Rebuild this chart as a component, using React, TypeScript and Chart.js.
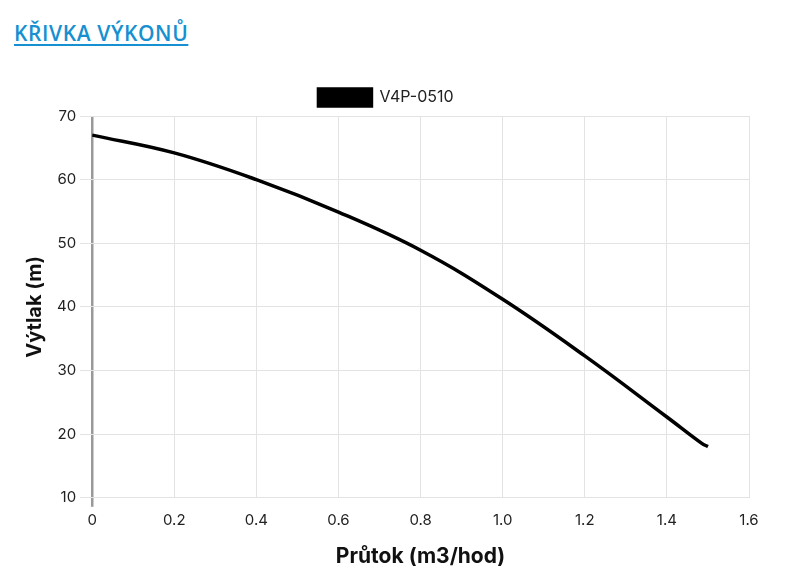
import React, { useEffect, useRef } from "react";
import { Chart, registerables } from "chart.js";

Chart.register(...registerables);

const seriesLabel = "V4P-0510";
const flowValues = [0, 0.2, 0.4, 0.6, 0.8, 1.0, 1.2, 1.4, 1.485, 1.5];
const headValues = [67.0, 64.2, 60.0, 54.9, 48.9, 41.2, 32.3, 22.7, 18.55, 18.05];
const xTickLabels = ["0", "0.2", "0.4", "0.6", "0.8", "1.0", "1.2", "1.4", "1.6"];
const yTicks = [10, 20, 30, 40, 50, 60, 70];

const FONT = "Inter, 'Open Sans', sans-serif";

export default function App() {
  const ref = useRef<HTMLCanvasElement | null>(null);

  useEffect(() => {
    if (!ref.current) return;
    const chart = new Chart(ref.current, {
      type: "line",
      data: {
        datasets: [
          {
            label: seriesLabel,
            data: flowValues.map((x, i) => ({ x, y: headValues[i] })),
            borderColor: "#000",
            backgroundColor: "#000",
            borderWidth: 3.5,
            pointRadius: 0,
            tension: 0.4,
            fill: false,
          },
        ],
      },
      options: {
        animation: false,
        responsive: false,
        maintainAspectRatio: false,
        layout: { padding: { left: 23, right: 47, top: 9, bottom: 14 } },
        plugins: {
          legend: {
            display: true,
            labels: {
              boxWidth: 53,
              boxHeight: 17,
              color: "#222",
              font: { family: FONT, size: 16 },
              padding: 10,
            },
          },
          tooltip: { enabled: false },
        },
        scales: {
          x: {
            type: "linear",
            min: 0,
            max: 1.6,
            ticks: {
              stepSize: 0.2,
              color: "#222",
              font: { family: FONT, size: 15 },
              padding: 5,
              callback: (_v: any, i: number) => xTickLabels[i],
            },
            grid: {
              color: (ctx: any) => (ctx.index === 0 ? "#999" : "#e3e3e3"),
              lineWidth: (ctx: any) => (ctx.index === 0 ? 2.5 : 1),
              tickColor: (ctx: any) => (ctx.index === 0 ? "#999" : "rgba(0,0,0,0)"),
              tickLength: 9,
            },
            border: { display: false },
            title: {
              display: true,
              text: "Průtok (m3/hod)",
              color: "#111",
              font: { family: FONT, size: 21, weight: "bold" },
              padding: { top: 9, bottom: 0 },
            },
          },
          y: {
            type: "linear",
            min: 10,
            max: 70,
            afterBuildTicks: (axis: any) => {
              axis.ticks = yTicks.map((v) => ({ value: v }));
            },
            ticks: {
              color: "#222",
              font: { family: FONT, size: 15 },
              padding: 4,
            },
            grid: {
              color: "#e3e3e3",
              lineWidth: 1,
              tickLength: 12,
            },
            border: { display: false },
            title: {
              display: true,
              text: "Výtlak (m)",
              color: "#111",
              font: { family: FONT, size: 20, weight: "bold" },
              padding: { top: 0, bottom: 6 },
            },
          },
        },
      },
    });
    return () => chart.destroy();
  }, []);

  return (
    <div>
      <a
        href="#"
        style={{
          position: "absolute",
          left: 14,
          top: 20,
          fontFamily: "'Open Sans', sans-serif",
          fontSize: 21,
          fontWeight: 600,
          color: "#1690d0",
          textDecoration: "underline",
          textUnderlineOffset: 3,
          letterSpacing: 0.6,
          lineHeight: "26px",
        }}
      >
        KŘIVKA VÝKONŮ
      </a>
      <canvas
        ref={ref}
        width={796}
        height={513}
        style={{ position: "absolute", left: 0, top: 70, width: 796, height: 513 }}
      />
    </div>
  );
}
